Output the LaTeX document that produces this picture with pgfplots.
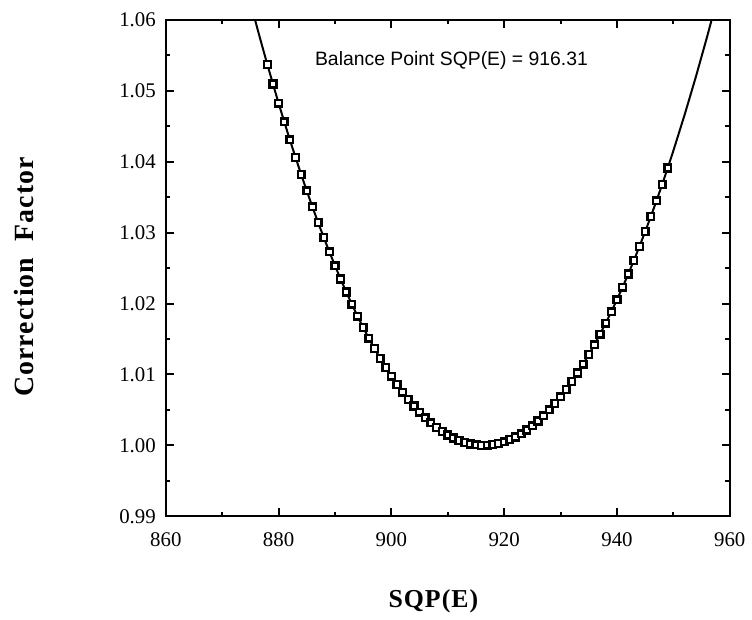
\documentclass[border=0pt]{standalone}
\usepackage{pgfplots}
\usepackage{pgfplotstable}
\usepackage{fontspec}
\pgfplotsset{compat=1.18}
\setmainfont{Liberation Serif}
\newfontfamily\helv{Liberation Sans}
\newfontfamily\lblfont[LetterSpace=4]{Liberation Serif}

% correction factor, one mark per unit of SQP(E)
\pgfplotstableread{
x y
878 1.05372
879 1.05095
880 1.04825
881 1.04563
882 1.04309
883 1.04061
884 1.03821
885 1.03588
886 1.03362
887 1.03144
888 1.02933
889 1.02730
890 1.02533
891 1.02345
892 1.02163
893 1.01989
894 1.01822
895 1.01662
896 1.01510
897 1.01365
898 1.01227
899 1.01097
900 1.00974
901 1.00858
902 1.00749
903 1.00648
904 1.00555
905 1.00468
906 1.00389
907 1.00317
908 1.00253
909 1.00196
910 1.00146
911 1.00103
912 1.00068
913 1.00040
914 1.00020
915 1.00006
916 1.00000
917 1.00002
918 1.00010
919 1.00026
920 1.00050
921 1.00081
922 1.00118
923 1.00164
924 1.00216
925 1.00276
926 1.00344
927 1.00418
928 1.00500
929 1.00589
930 1.00686
931 1.00790
932 1.00901
933 1.01020
934 1.01145
935 1.01279
936 1.01419
937 1.01567
938 1.01722
939 1.01884
940 1.02054
941 1.02231
942 1.02416
943 1.02607
944 1.02806
945 1.03013
946 1.03226
947 1.03447
948 1.03676
949 1.03911
}\markT

% the fitted line runs past the marks on both sides
\pgfplotstableread{
x y
874 1.06552
875 1.06246
876 1.05947
877 1.05656
878 1.05372
}\leftT
\pgfplotstableread{
x y
949 1.03911
950 1.04154
952 1.04662
954 1.05199
956 1.05766
958 1.06361
}\rightT

\begin{document}
\begin{tikzpicture}
\begin{axis}[
  scale only axis,
  width=284pt, height=250pt,
  xmin=860, xmax=960, ymin=0.99, ymax=1.06,
  xtick={860,880,...,960},
  ytick={0.99,1.00,...,1.06},
  minor x tick num=1, minor y tick num=1,
  tick align=inside,
  major tick length=4pt, minor tick length=2.2pt,
  axis line style={line width=1.1pt},
  every tick/.style={black, line width=1pt},
  tick label style={font=\fontsize{10.5}{12}\selectfont},
  /pgf/number format/assume math mode=true,
  y tick label style={xshift=-1.5pt, /pgf/number format/fixed,
    /pgf/number format/fixed zerofill, /pgf/number format/precision=2},
  x tick label style={yshift=-4.5pt},
  xlabel={\lblfont\bfseries\fontsize{13}{15}\selectfont SQP(E)},
  ylabel={\lblfont\bfseries\fontsize{14}{16}\selectfont Correction~~Factor},
  xlabel style={at={(axis description cs:0.4745,-0.172)}, anchor=center},
  ylabel style={at={(axis description cs:-0.252,0.482)}, anchor=center},
]
\addplot[black, line width=1pt] table {\leftT};
\addplot[black, line width=1pt] table {\markT};
\addplot[black, line width=1pt] table {\rightT};
\addplot[only marks, mark=square*, mark size=1.7pt,
  mark options={draw=black, fill=white, line width=1.2pt}] table {\markT};
\node[anchor=west, inner sep=0pt, font=\helv\fontsize{9.75}{11}\selectfont]
  at (axis cs:886.4,1.0542) {Balance Point SQP(E) = 916.31};
\end{axis}
\path (current axis.south west) ++(-83.5pt,-51.5pt) coordinate (bbA);
\path (current axis.north east) ++(8.5pt,10pt) coordinate (bbB);
\path[use as bounding box] (bbA) rectangle (bbB);
\end{tikzpicture}
\end{document}
